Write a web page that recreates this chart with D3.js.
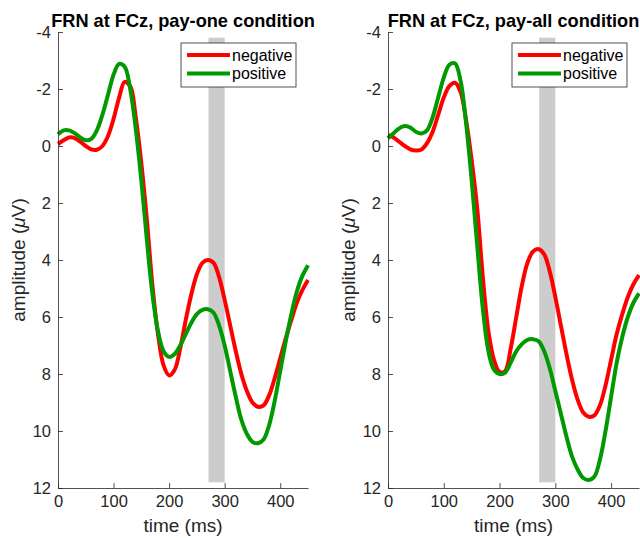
<!DOCTYPE html>
<html>
<head>
<meta charset="utf-8">
<script src="https://cdn.jsdelivr.net/npm/d3@7"></script>
<style>
  body { margin: 0; background: #fff; }
  text { font-family: "Liberation Sans", Helvetica, Arial, sans-serif; fill: #262626; }
</style>
</head>
<body>
<div id="chart"></div>
<script>
// time in ms
let times = [0, 10, 20, 30, 40, 50, 60, 70, 80, 90,
             100, 110, 120, 130, 140, 150, 160, 170, 180, 190,
             200, 210, 220, 230, 240, 250, 260, 270, 280, 290,
             300, 310, 320, 330, 340, 350, 360, 370, 380, 390,
             400, 410, 420, 430, 440, 450];

// pay-one condition (µV)
let payOneNegative = [-0.07, -0.2, -0.3, -0.28, -0.15, 0.0, 0.12, 0.13, 0.0, -0.35,
                      -0.95, -1.7, -2.25, -2.1, -1.0, 0.6, 2.6, 4.9, 6.6, 7.7,
                      8.05, 7.85, 7.1, 6.1, 5.2, 4.5, 4.1, 4.0, 4.1, 4.6,
                      5.4, 6.3, 7.2, 8.0, 8.6, 9.0, 9.15, 9.1, 8.75, 8.15,
                      7.45, 6.75, 6.1, 5.5, 5.05, 4.7];
let payOnePositive = [-0.41, -0.55, -0.55, -0.45, -0.3, -0.2, -0.25, -0.55, -1.1, -1.8,
                      -2.5, -2.88, -2.78, -2.0, -0.6, 1.2, 3.3, 5.2, 6.5, 7.2,
                      7.4, 7.3, 7.0, 6.6, 6.2, 5.9, 5.75, 5.73, 5.85, 6.3,
                      7.0, 7.9, 8.8, 9.6, 10.1, 10.38, 10.43, 10.3, 9.8, 8.95,
                      7.9, 6.85, 5.9, 5.1, 4.55, 4.18];

// pay-all condition (µV)
let payAllNegative = [-0.39, -0.3, -0.15, 0.0, 0.12, 0.16, 0.12, -0.1, -0.5, -1.1,
                      -1.7, -2.1, -2.22, -1.9, -0.9, 0.5, 2.2, 4.6, 6.5, 7.5,
                      7.93, 7.9, 7.1, 6.0, 4.9, 4.1, 3.7, 3.62, 3.8, 4.4,
                      5.3, 6.3, 7.3, 8.2, 8.9, 9.35, 9.5, 9.45, 9.1, 8.4,
                      7.5, 6.6, 5.9, 5.3, 4.85, 4.53];
let payAllPositive = [-0.27, -0.45, -0.62, -0.7, -0.65, -0.5, -0.44, -0.55, -1.0, -1.7,
                      -2.4, -2.85, -2.9, -2.3, -0.8, 1.2, 3.5, 5.7, 7.2, 7.85,
                      8.0, 7.95, 7.6, 7.2, 6.95, 6.8, 6.78, 6.85, 7.2, 7.8,
                      8.6, 9.4, 10.2, 10.9, 11.35, 11.65, 11.72, 11.6, 11.0, 10.0,
                      8.8, 7.6, 6.7, 6.0, 5.5, 5.17];

let xTicks = [0, 100, 200, 300, 400];
let yTicks = [-4, -2, 0, 2, 4, 6, 8, 10, 12];
let seriesNames = ["negative", "positive"];
let seriesColors = ["#ff0000", "#009900"];

let panels = [
  {title: "FRN at FCz, pay-one condition", left: 58, right: 308,
   band: [271, 300], series: [payOneNegative, payOnePositive]},
  {title: "FRN at FCz, pay-all condition", left: 388, right: 639,
   band: [271, 300], series: [payAllNegative, payAllPositive]}
];

let svg = d3.select("#chart")
    .append("svg")
    .attr("width", 640)
    .attr("height", 538);

let plotTop = 32, plotBottom = 488;

panels.forEach(function(p) {
    let x = d3.scaleLinear().domain([0, 450]).range([p.left, p.right]);
    let y = d3.scaleLinear().domain([-4, 12]).range([plotTop, plotBottom]);
    let g = svg.append("g");

    // shaded analysis window
    g.append("rect")
        .attr("x", x(p.band[0]))
        .attr("width", x(p.band[1]) - x(p.band[0]))
        .attr("y", y(-3.8))
        .attr("height", y(11.8) - y(-3.8))
        .attr("fill", "#cccccc");

    let line = d3.line()
        .x(function(d, i) { return x(times[i]); })
        .y(function(d) { return y(d); })
        .curve(d3.curveCatmullRom.alpha(0.5));

    p.series.forEach(function(s, i) {
        g.append("path")
            .datum(s)
            .attr("d", line)
            .attr("fill", "none")
            .attr("stroke", seriesColors[i])
            .attr("stroke-width", 4)
            .attr("stroke-linejoin", "round");
    });

    let fmt = function(d) { return String(d); };
    let xAxis = g.append("g")
        .attr("transform", "translate(0," + plotBottom + ")")
        .call(d3.axisBottom(x).tickValues(xTicks).tickFormat(fmt)
              .tickSize(-5).tickSizeOuter(0).tickPadding(7));
    let yAxis = g.append("g")
        .attr("transform", "translate(" + p.left + ",0)")
        .call(d3.axisLeft(y).tickValues(yTicks).tickFormat(fmt)
              .tickSize(-5).tickSizeOuter(0).tickPadding(7));

    [xAxis, yAxis].forEach(function(a) {
        a.select(".domain").attr("stroke", "#262626").attr("stroke-width", 0.8);
        a.selectAll(".tick line").attr("stroke", "#262626").attr("stroke-width", 0.8);
        a.selectAll(".tick text")
            .attr("fill", "#262626")
            .style("font-family", "'Liberation Sans', Helvetica, Arial, sans-serif")
            .style("font-size", "16.5px");
    });

    let cx = (p.left + p.right) / 2;
    g.append("text")
        .attr("x", cx)
        .attr("y", 27)
        .attr("text-anchor", "middle")
        .style("font-size", "18.2px")
        .style("font-weight", "bold")
        .style("fill", "#000")
        .text(p.title);

    g.append("text")
        .attr("x", cx)
        .attr("y", 532)
        .attr("text-anchor", "middle")
        .style("font-size", "19px")
        .text("time (ms)");

    let yl = g.append("text")
        .attr("transform", "translate(" + (p.left - 33) + "," + ((plotTop + plotBottom) / 2) + ") rotate(-90)")
        .attr("text-anchor", "middle")
        .style("font-size", "19px");
    yl.append("tspan").text("amplitude (");
    yl.append("tspan").style("font-style", "italic").text("\u03bc");
    yl.append("tspan").text("V)");

    // legend
    let lx = p.right - 127, ly = 43;
    let leg = g.append("g").attr("transform", "translate(" + lx + "," + ly + ")");
    leg.append("rect")
        .attr("width", 115)
        .attr("height", 44)
        .attr("fill", "#fff")
        .attr("stroke", "#262626")
        .attr("stroke-width", 0.8);
    seriesNames.forEach(function(name, i) {
        let yy = 12 + i * 18.5;
        leg.append("line")
            .attr("x1", 6).attr("x2", 49)
            .attr("y1", yy).attr("y2", yy)
            .attr("stroke", seriesColors[i])
            .attr("stroke-width", 4);
        leg.append("text")
            .attr("x", 51)
            .attr("y", yy)
            .attr("dy", "0.35em")
            .style("font-size", "16px")
            .style("fill", "#000")
            .text(name);
    });
});
</script>
</body>
</html>
